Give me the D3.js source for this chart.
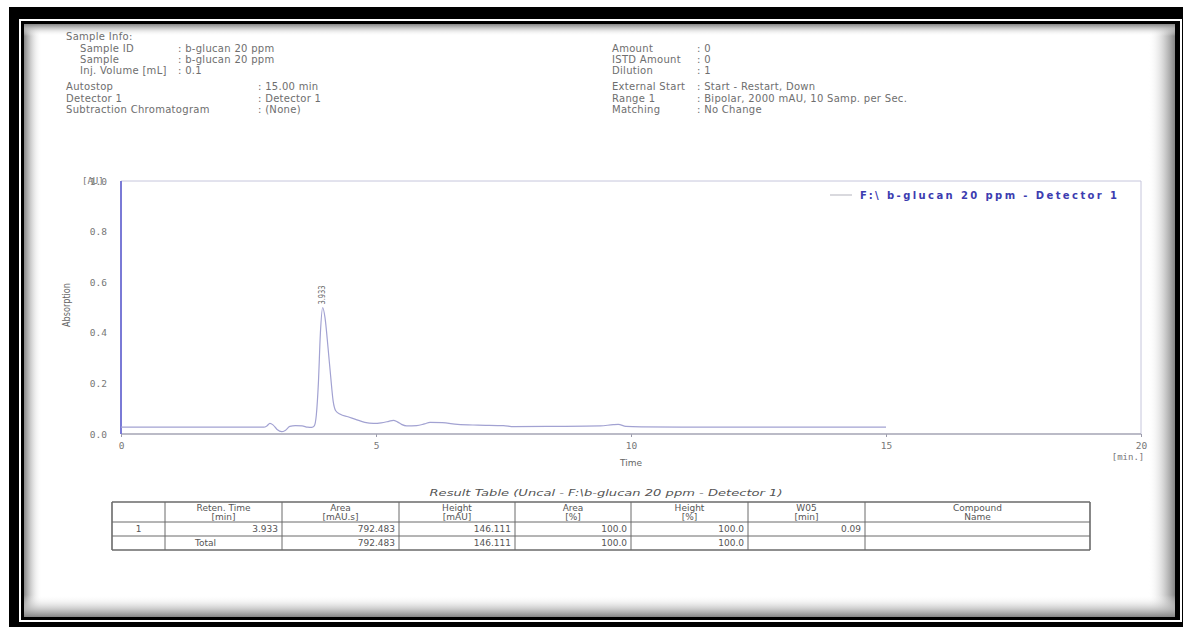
<!DOCTYPE html>
<html>
<head>
<meta charset="utf-8">
<script src="https://cdn.jsdelivr.net/npm/d3@7"></script>
<style>
  body { margin: 0; background: #fff; }
  svg { display: block; }
  text { font-family: "DejaVu Sans", Verdana, sans-serif; }
</style>
</head>
<body>
<svg id="page" width="1183" height="627"></svg>
<script>
// Header block of the report
var sampleLabels = ["Sample ID", "Sample", "Inj. Volume [mL]"];
var sampleValues = [": b-glucan 20 ppm", ": b-glucan 20 ppm", ": 0.1"];
var runLabels = ["Autostop", "Detector 1", "Subtraction Chromatogram"];
var runValues = [": 15.00 min", ": Detector 1", ": (None)"];
var amountLabels = ["Amount", "ISTD Amount", "Dilution"];
var amountValues = [": 0", ": 0", ": 1"];
var startLabels = ["External Start", "Range 1", "Matching"];
var startValues = [": Start - Restart, Down", ": Bipolar, 2000 mAU, 10 Samp. per Sec.", ": No Change"];

// Chromatogram trace (min, AU)
var timeMin = [0, 1.0, 2.0, 2.80, 2.86, 2.92, 2.98, 3.06, 3.15, 3.22, 3.31, 3.42, 3.55, 3.66, 3.74, 3.79,
               3.83, 3.87, 3.91, 3.955, 4.00, 4.06, 4.11, 4.16, 4.21, 4.30, 4.45, 4.60, 4.78, 4.95,
               5.10, 5.25, 5.34, 5.42, 5.50, 5.60, 5.80, 5.95, 6.06, 6.30, 6.60, 7.00, 7.50, 7.70,
               8.50, 9.40, 9.65, 9.75, 9.90, 10.2, 11, 12, 13, 14, 15];
var absorbAU = [0.027, 0.027, 0.027, 0.027, 0.032, 0.042, 0.036, 0.018, 0.009, 0.014, 0.030, 0.033, 0.032, 0.027, 0.026, 0.032,
                0.075, 0.200, 0.400, 0.500, 0.460, 0.340, 0.230, 0.130, 0.092, 0.078, 0.068, 0.058, 0.046, 0.042,
                0.044, 0.050, 0.054, 0.048, 0.038, 0.032, 0.033, 0.040, 0.046, 0.045, 0.038, 0.035, 0.033, 0.029,
                0.030, 0.032, 0.037, 0.038, 0.030, 0.028, 0.027, 0.027, 0.027, 0.027, 0.027];
var xTicks = [0, 5, 10, 15, 20];
var yTicks = [0, 0.2, 0.4, 0.6, 0.8, 1.0];
var peakTimes = [3.933];
var peakApex = [0.500];
var seriesName = "F:\\ b-glucan 20 ppm - Detector 1";

// Result table
var tableTitle = "Result Table (Uncal - F:\\b-glucan 20 ppm - Detector 1)";
var tableHeads = ["", "Reten. Time", "Area", "Height", "Area", "Height", "W05", "Compound"];
var tableUnits = ["", "[min]", "[mAU.s]", "[mAU]", "[%]", "[%]", "[min]", "Name"];
var peakRow = ["1", "3.933", "792.483", "146.111", "100.0", "100.0", "0.09", ""];
var totalRow = ["", "Total", "792.483", "146.111", "100.0", "100.0", "", ""];

/** Class drawing the whole report page. */
class Report {
    constructor(svgId) {
        this.svg = d3.select(svgId);
        this.grey = "#6e6e6e";

        /** plot box */
        this.x = d3.scaleLinear().domain([0, 20]).range([121, 1141]);
        this.y = d3.scaleLinear().domain([0, 1]).range([434, 181]);
    }

    drawFrame() {
        var svg = this.svg;
        svg.append("rect").attr("x", 9).attr("y", 7).attr("width", 1174).attr("height", 620).attr("fill", "#000");
        svg.append("rect").attr("x", 19).attr("y", 19).attr("width", 1163).attr("height", 603).attr("fill", "#fff");
        svg.append("rect").attr("x", 21).attr("y", 21).attr("width", 1159).attr("height", 599).attr("fill", "#000");
        svg.append("rect").attr("x", 24).attr("y", 24).attr("width", 1151).attr("height", 593).attr("fill", "#fff");

        // inner shadow along the four edges
        var defs = svg.append("defs");
        var edges = [
            {id: "shL", x1: 0, y1: 0, x2: 1, y2: 0, x: 24, y: 24, w: 18, h: 593},
            {id: "shR", x1: 1, y1: 0, x2: 0, y2: 0, x: 1148, y: 24, w: 27, h: 593},
            {id: "shT", x1: 0, y1: 0, x2: 0, y2: 1, x: 24, y: 24, w: 1151, h: 12},
            {id: "shB", x1: 0, y1: 1, x2: 0, y2: 0, x: 24, y: 595, w: 1151, h: 22}
        ];
        edges.forEach(function (e) {
            var g = defs.append("linearGradient").attr("id", e.id)
                .attr("x1", e.x1).attr("y1", e.y1).attr("x2", e.x2).attr("y2", e.y2);
            g.append("stop").attr("offset", 0).attr("stop-color", "#858585").attr("stop-opacity", 1);
            g.append("stop").attr("offset", 0.35).attr("stop-color", "#bbbbbb").attr("stop-opacity", 0.8);
            g.append("stop").attr("offset", 1).attr("stop-color", "#ffffff").attr("stop-opacity", 0);
            svg.append("rect").attr("x", e.x).attr("y", e.y).attr("width", e.w).attr("height", e.h)
                .attr("fill", "url(#" + e.id + ")");
        });
    }

    /** label / value columns of the header */
    infoBlock(labels, values, xLab, xVal, yTop, step) {
        var g = this.svg.append("g")
            .style("font-size", "10px")
            .style("letter-spacing", "0.3px")
            .style("fill", this.grey);
        g.selectAll("text.lab").data(labels).enter().append("text")
            .attr("class", "lab")
            .attr("x", xLab)
            .attr("y", (d, i) => yTop + i * step)
            .text(d => d);
        g.selectAll("text.val").data(values).enter().append("text")
            .attr("class", "val")
            .attr("x", xVal)
            .attr("y", (d, i) => yTop + i * step)
            .text(d => d);
    }

    drawHeader() {
        this.svg.append("text")
            .attr("x", 66).attr("y", 40)
            .style("font-size", "10px").style("letter-spacing", "0.3px").style("fill", this.grey)
            .text("Sample Info:");
        this.infoBlock(sampleLabels, sampleValues, 80, 178, 51.5, 11);
        this.infoBlock(runLabels, runValues, 66, 258, 90, 11.5);
        this.infoBlock(amountLabels, amountValues, 612, 697, 51.5, 11);
        this.infoBlock(startLabels, startValues, 612, 697, 90, 11.5);
    }

    drawPlot() {
        var svg = this.svg, x = this.x, y = this.y;

        // box
        svg.append("line").attr("x1", x(0)).attr("x2", x(20)).attr("y1", y(1)).attr("y2", y(1))
            .attr("stroke", "#c6c6dc").attr("stroke-width", 1);
        svg.append("line").attr("x1", x(20)).attr("x2", x(20)).attr("y1", y(1)).attr("y2", y(0))
            .attr("stroke", "#c6c6dc").attr("stroke-width", 1);

        var xAxis = svg.append("g")
            .attr("transform", "translate(0," + y(0) + ")")
            .call(d3.axisBottom(x).tickValues(xTicks).tickSize(3).tickPadding(5).tickFormat(d3.format("d")));
        xAxis.select(".domain").remove();
        xAxis.selectAll("line").attr("stroke", "#9a9aaa");
        xAxis.selectAll("text")
            .style("font-family", "'DejaVu Sans Mono', monospace")
            .style("font-size", "9.5px")
            .style("fill", "#777");

        var yAxis = svg.append("g")
            .attr("transform", "translate(" + x(0) + ",0)")
            .call(d3.axisLeft(y).tickValues(yTicks).tickSize(0).tickPadding(14).tickFormat(d3.format(".1f")));
        yAxis.select(".domain").remove();
        yAxis.selectAll("text")
            .style("font-family", "'DejaVu Sans Mono', monospace")
            .style("font-size", "9.5px")
            .style("fill", "#777");

        svg.append("line").attr("x1", x(0)).attr("x2", x(20)).attr("y1", y(0)).attr("y2", y(0))
            .attr("stroke", "#a4a4b4").attr("stroke-width", 1.5);
        svg.append("line").attr("x1", x(0)).attr("x2", x(0)).attr("y1", y(1)).attr("y2", y(0))
            .attr("stroke", "#7a7ad6").attr("stroke-width", 2);

        // [AU] sits right on top of the 1.0 label, as in the print
        svg.append("text")
            .attr("x", 82).attr("y", y(1) + 3)
            .style("font-family", "'DejaVu Sans Mono', monospace")
            .style("font-size", "9px").style("fill", "#777")
            .text("[AU]");

        svg.append("text")
            .attr("transform", "translate(70," + 305 + ") rotate(-90)")
            .attr("text-anchor", "middle")
            .attr("textLength", 44).attr("lengthAdjust", "spacingAndGlyphs")
            .style("font-family", "'DejaVu Sans Condensed', 'DejaVu Sans', sans-serif")
            .style("font-size", "10px").style("fill", "#666")
            .text("Absorption");

        svg.append("text")
            .attr("x", x(10)).attr("y", 466)
            .attr("text-anchor", "middle")
            .style("font-size", "9px").style("fill", "#666")
            .text("Time");
        svg.append("text")
            .attr("x", 1128).attr("y", 460)
            .attr("text-anchor", "middle")
            .style("font-family", "'DejaVu Sans Mono', monospace")
            .style("font-size", "9px").style("fill", "#777")
            .text("[min.]");

        // trace
        var line = d3.line()
            .x(d => x(d[0]))
            .y(d => y(d[1]))
            .curve(d3.curveMonotoneX);
        svg.append("path")
            .datum(d3.zip(timeMin, absorbAU))
            .attr("d", line)
            .attr("fill", "none")
            .attr("stroke", "#a2a2d2")
            .attr("stroke-width", 1.2);

        // peak label, vertical
        svg.selectAll("text.peak").data(d3.zip(peakTimes, peakApex)).enter().append("text")
            .attr("class", "peak")
            .attr("transform", d => "translate(" + (x(d[0]) + 3) + "," + (y(d[1]) - 3) + ") rotate(-90)")
            .attr("textLength", 19).attr("lengthAdjust", "spacingAndGlyphs")
            .style("font-family", "'DejaVu Sans Condensed', 'DejaVu Sans', sans-serif")
            .style("font-size", "9px").style("fill", "#666")
            .text(d => d3.format(".3f")(d[0]));

        // legend
        svg.append("line").attr("x1", 830).attr("x2", 852).attr("y1", 195).attr("y2", 195)
            .attr("stroke", "#c0c0c8").attr("stroke-width", 1.2);
        svg.append("text")
            .attr("x", 860).attr("y", 199)
            .attr("textLength", 257).attr("lengthAdjust", "spacing")
            .style("font-size", "10px").style("font-weight", "bold").style("fill", "#3c3cb0")
            .text(seriesName);
    }

    drawTable() {
        var svg = this.svg;
        var edges = [112, 165, 282, 399, 515, 631, 748, 865, 1090];
        var rowsY = [502, 522, 536, 550];
        var font = "'DejaVu Sans Condensed', 'DejaVu Sans', sans-serif";

        svg.append("text")
            .attr("x", 606).attr("y", 496)
            .attr("text-anchor", "middle")
            .attr("textLength", 353).attr("lengthAdjust", "spacingAndGlyphs")
            .style("font-family", font).style("font-style", "italic")
            .style("font-size", "9.5px").style("fill", "#555")
            .text(tableTitle);

        var g = svg.append("g");
        rowsY.forEach(function (ry, i) {
            g.append("line").attr("x1", edges[0]).attr("x2", edges[edges.length - 1])
                .attr("y1", ry).attr("y2", ry)
                .attr("stroke", "#6a6a6a").attr("stroke-width", (i == 0 || i == rowsY.length - 1) ? 1.6 : 1);
        });
        edges.forEach(function (ex, i) {
            g.append("line").attr("x1", ex).attr("x2", ex)
                .attr("y1", rowsY[0]).attr("y2", rowsY[rowsY.length - 1])
                .attr("stroke", "#6a6a6a").attr("stroke-width", (i == 0 || i == edges.length - 1) ? 1.6 : 1);
        });

        var mid = (i) => (edges[i] + edges[i + 1]) / 2;
        var txt = g.append("g").style("font-family", font).style("font-size", "9px").style("fill", "#555");

        txt.selectAll("text.h1").data(tableHeads).enter().append("text")
            .attr("x", (d, i) => mid(i)).attr("y", rowsY[0] + 9)
            .attr("text-anchor", "middle").text(d => d);
        txt.selectAll("text.h2").data(tableUnits).enter().append("text")
            .attr("x", (d, i) => mid(i)).attr("y", rowsY[0] + 18)
            .attr("text-anchor", "middle").text(d => d);

        var cell = function (row, ry, cls) {
            txt.selectAll("text." + cls).data(row).enter().append("text")
                .attr("class", cls)
                .attr("x", (d, i) => (i == 0 || d == "Total") ? mid(i) - (d == "Total" ? 18 : 0) : edges[i + 1] - 4)
                .attr("y", ry)
                .attr("text-anchor", (d, i) => (i == 0 || d == "Total") ? "middle" : "end")
                .text(d => d);
        };
        cell(peakRow, rowsY[1] + 10, "r1");
        cell(totalRow, rowsY[2] + 10, "r2");
    }
}

var report = new Report("#page");
report.drawFrame();
report.drawHeader();
report.drawPlot();
report.drawTable();
</script>
</body>
</html>
